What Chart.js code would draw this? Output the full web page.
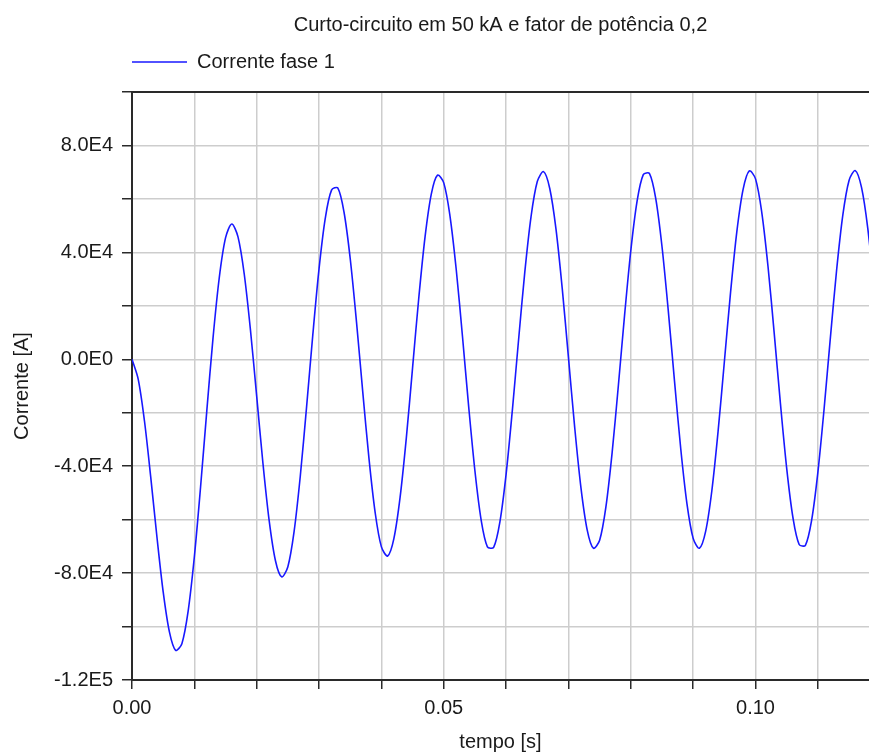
<!DOCTYPE html>
<html>
<head>
<meta charset="utf-8">
<script src="https://cdn.jsdelivr.net/npm/chart.js@4.4.1/dist/chart.umd.min.js"></script>
<style>
  html, body { margin: 0; padding: 0; background: #fff; }
  #wrap { width: 869px; height: 754px; }
</style>
</head>
<body>
<div id="wrap"><canvas id="curto" width="869" height="754"></canvas></div>
<script>
// amostras: tempo [s]
const tempo = [
  0.000, 0.001, 0.002, 0.003, 0.004, 0.005, 0.006, 0.007, 0.008, 0.009,
  0.010, 0.011, 0.012, 0.013, 0.014, 0.015, 0.016, 0.017, 0.018, 0.019,
  0.020, 0.021, 0.022, 0.023, 0.024, 0.025, 0.026, 0.027, 0.028, 0.029,
  0.030, 0.031, 0.032, 0.033, 0.034, 0.035, 0.036, 0.037, 0.038, 0.039,
  0.040, 0.041, 0.042, 0.043, 0.044, 0.045, 0.046, 0.047, 0.048, 0.049,
  0.050, 0.051, 0.052, 0.053, 0.054, 0.055, 0.056, 0.057, 0.058, 0.059,
  0.060, 0.061, 0.062, 0.063, 0.064, 0.065, 0.066, 0.067, 0.068, 0.069,
  0.070, 0.071, 0.072, 0.073, 0.074, 0.075, 0.076, 0.077, 0.078, 0.079,
  0.080, 0.081, 0.082, 0.083, 0.084, 0.085, 0.086, 0.087, 0.088, 0.089,
  0.090, 0.091, 0.092, 0.093, 0.094, 0.095, 0.096, 0.097, 0.098, 0.099,
  0.100, 0.101, 0.102, 0.103, 0.104, 0.105, 0.106, 0.107, 0.108, 0.109,
  0.110, 0.111, 0.112, 0.113, 0.114, 0.115, 0.116, 0.117, 0.118, 0.119
];
// Corrente fase 1 [A]
const correnteFase1 = [
  0, -7500, -23100, -44000, -66500, -87000, -102000, -108900, -106400, -94300,
  -73900, -47700, -19200, 8100, 30600, 45400, 50600, 45800, 31900, 10900,
  -13900, -38900, -60400, -75300, -81400, -77600, -64400, -43500, -17800, 9200,
  33900, 52800, 63300, 64100, 55100, 37600, 14100, -12000, -37000, -57400,
  -70200, -73600, -67100, -51600, -29300, -3100, 23100, 45800, 61800, 68900,
  66000, 53600, 33600, 8600, -17800, -41800, -60200, -70200, -70400, -60900,
  -43000, -19100, 7300, 32700, 53400, 66500, 70200, 63900, 48700, 26500,
  600, -25500, -48000, -63800, -70700, -67700, -55300, -35000, -9900, 16500,
  40700, 59100, 69100, 69500, 60100, 42200, 18400, -8000, -33300, -54000,
  -67000, -70700, -64400, -49100, -26900, -1000, 25100, 47700, 63500, 70500,
  67500, 55000, 34800, 9700, -16700, -40800, -59200, -69300, -69600, -60200,
  -42300, -18500, 7900, 33200, 53900, 66900, 70600, 64300, 49100, 26900
];
// rótulos dos eixos
const xRotulos = [0, 0.05, 0.10];
const yRotulos = [-120000, -80000, -40000, 0, 40000, 80000];

const fonte = { family: "'Liberation Sans', Arial, sans-serif", size: 20 };
const corTexto = '#1a1a1a';
const corEixo = '#2a2a2a';
const corGrade = '#cdcdcd';

function formataE(v) {
  return v.toExponential(1).replace('e+', 'E').replace('e', 'E');
}

new Chart(document.getElementById('curto'), {
  type: 'line',
  data: {
    datasets: [{
      label: 'Corrente fase 1',
      data: tempo.map((t, i) => ({ x: t, y: correnteFase1[i] })),
      borderColor: '#1818ff',
      backgroundColor: '#1818ff',
      borderWidth: 1.6,
      pointRadius: 0,
      tension: 0.3
    }]
  },
  options: {
    responsive: false,
    animation: false,
    layout: { padding: { top: 10, left: 0, right: 0, bottom: 0 } },
    plugins: {
      title: {
        display: true,
        text: 'Curto-circuito em 50 kA e fator de potência 0,2',
        fullSize: false,
        color: corTexto,
        font: { ...fonte, weight: 'normal' },
        padding: { top: 3, bottom: 15 }
      },
      legend: {
        display: true,
        fullSize: false,
        align: 'start',
        labels: {
          color: corTexto,
          font: fonte,
          padding: 0,
          usePointStyle: true,
          pointStyle: 'line',
          pointStyleWidth: 55
        }
      },
      tooltip: { enabled: false }
    },
    scales: {
      x: {
        type: 'linear',
        min: 0,
        max: 0.1182,
        afterFit: s => { s.height = 74; },
        ticks: {
          stepSize: 0.01,
          includeBounds: false,
          autoSkip: false,
          maxRotation: 0,
          padding: 7,
          color: corTexto,
          font: fonte,
          callback: v => xRotulos.some(r => Math.abs(r - v) < 1e-6) ? v.toFixed(2) : ''
        },
        grid: { color: corGrade, lineWidth: 1.5, tickLength: 9, tickColor: corEixo, tickWidth: 1.5 },
        border: { color: corEixo, width: 2 },
        title: { display: true, text: 'tempo [s]', color: corTexto, font: fonte, padding: { top: 0, bottom: 0 } }
      },
      x2: {
        type: 'linear',
        position: 'top',
        display: true,
        afterFit: s => { s.height = 10; },
        ticks: { display: false },
        grid: { display: false, drawTicks: false },
        border: { color: corEixo, width: 2 }
      },
      y: {
        min: -120000,
        max: 100000,
        afterFit: s => { s.width = 132; },
        ticks: {
          stepSize: 20000,
          autoSkip: false,
          padding: 9,
          color: corTexto,
          font: fonte,
          callback: v => yRotulos.some(r => Math.abs(r - v) < 1) ? formataE(v) : ''
        },
        grid: { color: corGrade, lineWidth: 1.5, tickLength: 10, tickColor: corEixo, tickWidth: 1.5 },
        border: { color: corEixo, width: 2 },
        title: { display: true, text: 'Corrente [A]', color: corTexto, font: fonte, padding: { top: 10, bottom: 0 } }
      }
    }
  }
});
</script>
</body>
</html>
